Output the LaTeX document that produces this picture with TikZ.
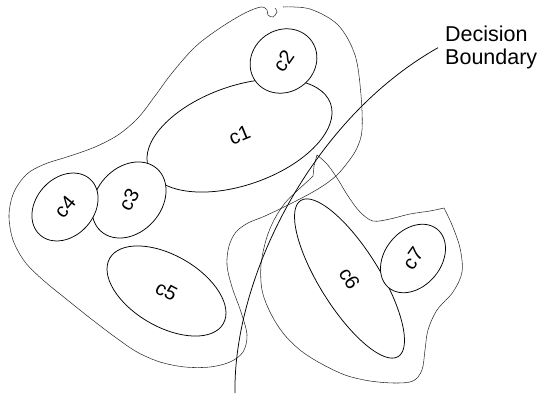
\documentclass[tikz,border=0pt]{standalone}
\usepackage{fontspec}
\setmainfont{Liberation Sans}
\usetikzlibrary{shapes.geometric}

\tikzset{
  cluster/.style={ellipse, draw=black, fill=white, line width=0.75pt, inner sep=0pt,
                  font=\fontsize{20}{24}\selectfont},
  contour/.style={line width=0.55pt, black!85, dash pattern=on 0.9pt off 0.3pt},
  boundary/.style={line width=0.75pt, black}
}
% the name of a cluster, turned a little further than its ellipse
\newcommand{\cname}[2]{\rotatebox[origin=c]{#1}{#2}}

\begin{document}
\begin{tikzpicture}[x=1pt, y=-1pt]
\useasboundingbox (0,0) rectangle (543,395);

% outer contour around c1--c5 (its two ends meet in a small notch at the top)
\draw[contour] plot[smooth, tension=0.55] coordinates {
  (283,7) (310,9) (338,25) (355,55) (361,95) (362,130) (357,148) (348,162)
  (336,176) (318,189) (292,203) (265,216) (248,223) (236,232) (229,246)
  (227,265) (232,287) (241,312) (247,335) (243,352) (230,362) (210,367)
  (185,367) (160,362) (137,352) (115,337) (90,318) (65,298) (43,280)
  (25,262) (13,240) (9,215) (14,192) (27,174) (45,164) (70,156) (95,147)
  (118,135) (138,118) (155,96) (172,73) (195,47) (220,28) (245,13) (261,7)
  (267,10) (268,15) (273,17) (277,12) (275,8)};

% outer contour around c6 and c7, with its spike at the top
\draw[contour] plot[smooth, tension=0.55] coordinates {
  (317,155) (327,164) (337,178) (348,196) (360,212) (373,221) (390,219)
  (410,214) (430,211) (444,208)}
  plot[smooth, tension=0.55] coordinates {
  (444,208) (452,225) (460,248) (462,272) (453,292) (437,310) (428,330)
  (425,350) (422,370) (413,381) (395,383) (370,381) (345,375) (320,363)
  (300,350) (283,333) (270,312) (262,290) (261,265) (266,240) (274,220)
  (285,203) (298,190) (309,180)}
  -- (313,176) -- (314,166) -- (317,155);

% clusters; later ones cover the ones they overlap
\node[cluster, minimum width=193pt, minimum height=99pt, rotate=19.3] (c1) at (239.5,135.5) {\cname{3}{c1}};
\node[cluster, minimum width=69pt, minimum height=62pt, rotate=35] (c2) at (283.5,61) {\cname{20}{c2}};
\node[cluster, minimum width=84pt, minimum height=65pt, rotate=48] (c3) at (129,200) {\cname{12}{c3}};
\node[cluster, minimum width=75pt, minimum height=58pt, rotate=48] (c4) at (65,207) {\cname{2}{c4}};
\node[cluster, minimum width=131pt, minimum height=71.5pt, rotate=-30] (c5) at (166.5,291) {\cname{2}{c5}};
\node[cluster, minimum width=184pt, minimum height=60pt, rotate=-58] (c6) at (349.5,278.5) {c6};
\node[cluster, minimum width=76pt, minimum height=56pt, rotate=50] (c7) at (413,258.5) {\cname{5}{c7}};

% decision boundary and its caption
\node[anchor=north west, inner sep=0pt, align=left,
      font=\fontsize{21.5}{23}\selectfont] (dbl) at (445,26) {Decision\\Boundary};
\coordinate (dbfoot) at (235,393);
\draw[boundary] (dbfoot) .. controls (233,280) and (310,120) .. ([xshift=-7pt]dbl.west);

\end{tikzpicture}
\end{document}
